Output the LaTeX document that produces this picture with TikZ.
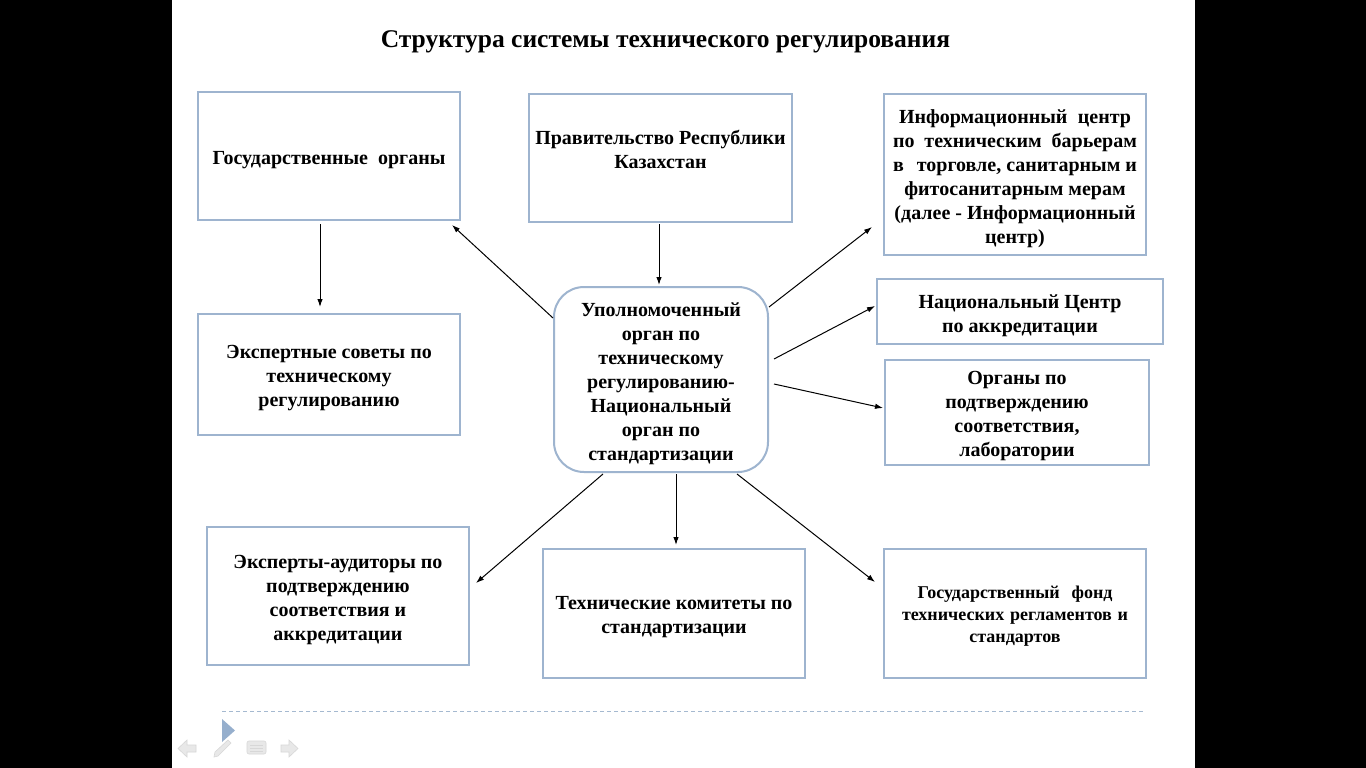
\documentclass[tikz,border=0pt]{standalone}
\usepackage{fontspec}
\setmainfont{Liberation Serif}
\usetikzlibrary{arrows.meta,calc}
\definecolor{bordc}{RGB}{158,180,207}
\definecolor{dashc}{RGB}{165,185,208}
\definecolor{navc}{RGB}{150,175,205}
\definecolor{iconc}{RGB}{232,232,232}
\definecolor{iconb}{RGB}{215,215,215}
\begin{document}
\begin{tikzpicture}[x=1pt,y=-1pt,
  box/.style={draw=bordc, line width=2pt, fill=white, inner sep=0pt},
  txt/.style={align=center, inner sep=0pt, font=\bfseries\fontsize{20}{24}\selectfont},
  arr/.style={-{Latex[length=8pt,width=5.5pt]}, line width=1pt, black},
  icon/.style={fill=iconc, draw=iconb, line width=0.6pt}]
\useasboundingbox (0,0) rectangle (1366,768);
\fill[black] (0,0) rectangle (1366,768);
\fill[white] (172,0) rectangle (1195,768);

% title
\node[anchor=base, inner sep=0pt, font=\bfseries\fontsize{25.5}{30}\selectfont] (title) at (665.5,48)
  {Структура системы технического регулирования};

% boxes
\node[box, minimum width=262pt, minimum height=128pt] (gov) at (329,156) {};
\node[txt] (govT) at ([yshift=-4pt]gov.center) {Государственные\ \ органы};

\node[box, minimum width=263pt, minimum height=128pt] (govt) at (660.5,158) {};
\node[txt] (govtT) at (660.5,149) {Правительство Республики\\Казахстан};

\node[box, minimum width=262pt, minimum height=161pt] (info) at (1015,174.5) {};
\node[txt] (infoT) at ([yshift=-4pt]info.center)
  {\makebox[232pt][s]{Информационный центр}\\
   \makebox[244pt][s]{по техническим барьерам}\\
   в\hspace{13pt}торговле, санитарным и\\
   фитосанитарным мерам\\
   (далее - Информационный\\
   центр)};

\node[box, minimum width=262pt, minimum height=121pt] (expert) at (329,374.5) {};
\node[txt] (expertT) at ([yshift=-4pt]expert.center)
  {Экспертные советы по\\техническому\\регулированию};

\node[box, rounded corners=30pt, minimum width=214pt, minimum height=185pt] (cen) at (661,379.5) {};
\node[txt] (cenT) at ([yshift=-4pt]cen.center)
  {Уполномоченный\\орган по\\техническому\\регулированию-\\Национальный\\орган по\\стандартизации};

\node[box, minimum width=286pt, minimum height=65pt] (nca) at (1020,311.5) {};
\node[txt] (ncaT) at ([yshift=-4pt]nca.center) {Национальный Центр\\по аккредитации};

\node[box, minimum width=264pt, minimum height=105pt] (conf) at (1017,412.5) {};
\node[txt] (confT) at ([yshift=-4pt]conf.center)
  {Органы по\\подтверждению\\соответствия,\\лаборатории};

\node[box, minimum width=262pt, minimum height=138pt] (aud) at (338,596) {};
\node[txt] (audT) at ([yshift=-4pt]aud.center)
  {Эксперты-аудиторы по\\подтверждению\\соответствия и\\аккредитации};

\node[box, minimum width=262pt, minimum height=129pt] (tc) at (674,613.5) {};
\node[txt] (tcT) at ([yshift=-4pt]tc.center) {Технические комитеты по\\стандартизации};

\node[box, minimum width=262pt, minimum height=129pt] (fund) at (1015,613.5) {};
\node[txt, font=\bfseries\fontsize{18}{22}\selectfont] (fundT) at ([yshift=-3pt]fund.center)
  {\makebox[195pt][s]{Государственный фонд}\\
   \makebox[226pt][s]{технических регламентов и}\\
   стандартов};

% connectors
\draw[arr] ([shift={(-9,3)}]gov.south) -- ([shift={(-9,-6)}]expert.north);
\draw[arr] ([shift={(-1.5,1)}]govt.south) -- ([shift={(-2,-1)}]cen.north);
\draw[arr] ([shift={(0,-61.5)}]cen.west) -- ([shift={(-9,4)}]gov.south east);
\draw[arr] ([shift={(0,-72.5)}]cen.east) -- ([shift={(-11,-29)}]info.south west);
\draw[arr] ([shift={(5,-20.5)}]cen.east) -- ([shift={(-1,-5.5)}]nca.west);
\draw[arr] ([shift={(5,4.5)}]cen.east) -- ([shift={(-1,-4.5)}]conf.west);
\draw[arr] ([shift={(-58,1)}]cen.south) -- ([shift={(6,-13)}]aud.east);
\draw[arr] ([shift={(15,1)}]cen.south) -- ([shift={(2,-3)}]tc.north);
\draw[arr] ([shift={(76,1)}]cen.south) -- ([shift={(-8,-31.5)}]fund.west);

% footer
\coordinate (dl) at (222,711);
\coordinate (dr) at (1145,711);
\draw[dashc, line width=1pt, dash pattern=on 4pt off 3pt] (dl) -- (dr);
\fill[navc] (222,719) -- (235,730.5) -- (222,742) -- cycle;
% faint navigation icons
\draw[icon] (178,748.5) -- (187,740) -- (187,745) -- (196,745) -- (196,752) -- (187,752) -- (187,757) -- cycle;
\draw[icon] (214,757) -- (215,752) -- (228,740) -- (231,743) -- (218,756) -- cycle;
\draw[icon, rounded corners=2pt] (247,741) rectangle (266,754);
\draw[iconb, line width=0.8pt] (250,745) -- (263,745) (250,748) -- (263,748) (250,751) -- (263,751);
\draw[icon] (298,748.5) -- (289,740) -- (289,745) -- (281,745) -- (281,752) -- (289,752) -- (289,757) -- cycle;
\end{tikzpicture}
\end{document}
